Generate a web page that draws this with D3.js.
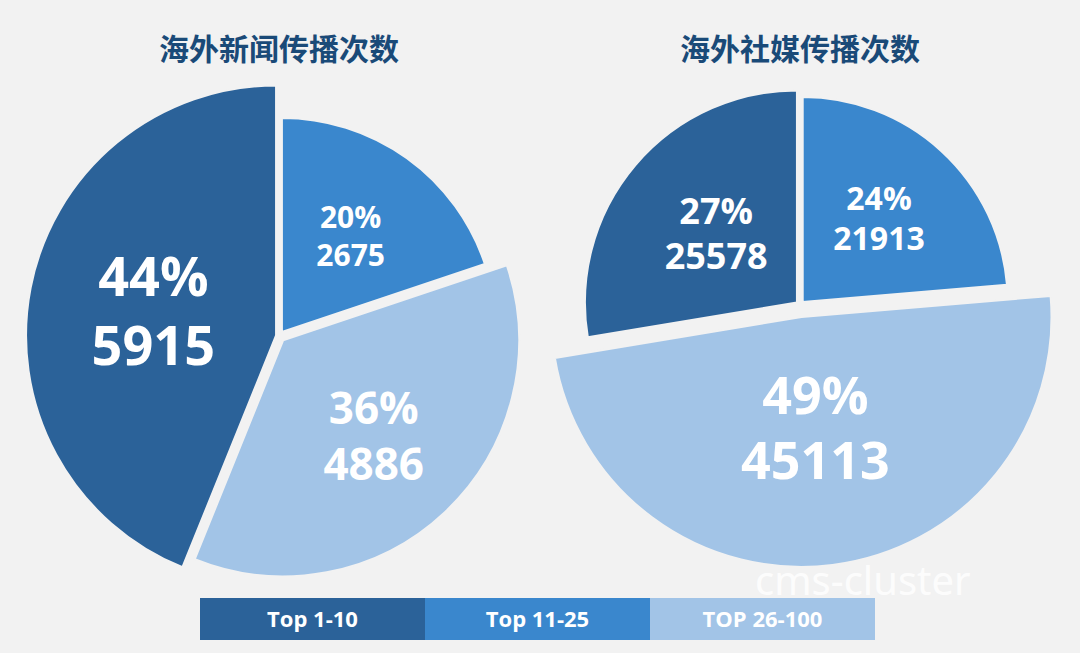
<!DOCTYPE html>
<html><head><meta charset="utf-8">
<script src="https://cdn.jsdelivr.net/npm/d3@7"></script>
<style>
body{margin:0;background:#f2f2f2;}
svg{display:block;}
</style></head>
<body>
<svg id="chart" width="1080" height="653"></svg>
<script>
const tiers = ["Top 1-10", "Top 11-25", "TOP 26-100"];
const titles = ["海外新闻传播次数", "海外社媒传播次数"];
const newsValues = [5915, 2675, 4886];
const newsShares = [44, 20, 36];
const socialValues = [25578, 21913, 45113];
const socialShares = [27, 24, 49];
const colors = ["#2b6299", "#3a87cd", "#a2c4e7"];

const pies = [
  { title: titles[0], values: newsValues, shares: newsShares, cx: 279, cy: 336,
    radius: [250, 214, 236], explode: [3, 5, 6], labelR: [0.5, 0.55, 0.56], font: [54, 30, 44] },
  { title: titles[1], values: socialValues, shares: socialShares, cx: 800, cy: 305,
    radius: [212, 205, 250], explode: [4, 4, 12], labelR: [0.5, 0.55, 0.45], font: [36, 32, 52] }
];

const svg = d3.select("#chart");

pies.forEach((p) => {
  const total = d3.sum(p.values);
  const start = -(p.values[0] / total) * 2 * Math.PI;
  const arcs = d3.pie().sort(null).startAngle(start).endAngle(start + 2 * Math.PI)(p.values);

  svg.append("text")
    .attr("x", p.cx).attr("y", 60)
    .attr("text-anchor", "middle")
    .attr("font-family", "Noto Sans CJK SC")
    .attr("font-weight", "bold").attr("font-size", 30)
    .attr("fill", "#1a4a78")
    .text(p.title);

  const g = svg.append("g").attr("transform", `translate(${p.cx},${p.cy})`);
  arcs.forEach((a, i) => {
    const mid = (a.startAngle + a.endAngle) / 2;
    const dx = Math.sin(mid) * p.explode[i], dy = -Math.cos(mid) * p.explode[i];
    const arc = d3.arc().innerRadius(0).outerRadius(p.radius[i]);
    const s = g.append("g").attr("transform", `translate(${dx},${dy})`);
    s.append("path").attr("d", arc(a)).attr("fill", colors[i])
      .attr("stroke", "#f2f2f2").attr("stroke-width", 2);
    const lr = p.radius[i] * p.labelR[i];
    const lx = Math.sin(mid) * lr, ly = -Math.cos(mid) * lr;
    const fs = p.font[i];
    [p.shares[i] + "%", p.values[i]].forEach((txt, k) => {
      s.append("text").attr("text-anchor", "middle")
        .attr("font-family", "Open Sans, Noto Sans").attr("font-weight", "bold")
        .attr("font-size", fs).attr("fill", "#fff")
        .attr("x", lx).attr("y", ly + (k === 0 ? -fs * 0.28 : fs * 0.98))
        .text(txt);
    });
  });
});

const legendX = d3.scaleBand().domain(tiers).range([200, 875]);
const lg = svg.append("g");
tiers.forEach((t, i) => {
  lg.append("rect").attr("x", legendX(t)).attr("y", 598)
    .attr("width", legendX.bandwidth()).attr("height", 42).attr("fill", colors[i]);
  lg.append("text").attr("x", legendX(t) + legendX.bandwidth() / 2).attr("y", 627)
    .attr("text-anchor", "middle").attr("font-family", "Open Sans, Noto Sans")
    .attr("font-weight", "bold").attr("font-size", 22).attr("fill", "#fff").text(t);
});

svg.append("text").attr("x", 755).attr("y", 595)
  .attr("font-family", "Noto Sans").attr("font-size", 40)
  .attr("fill", "#fff").attr("fill-opacity", 0.85).text("cms-cluster");
</script>
</body></html>
